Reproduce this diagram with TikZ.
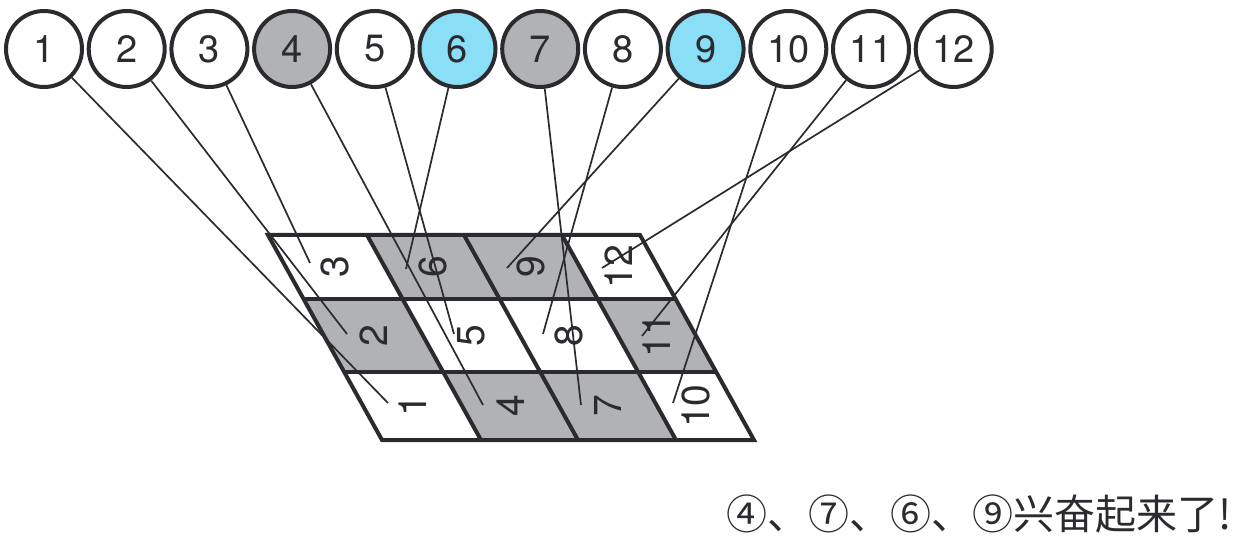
\documentclass[tikz,border=0pt]{standalone}
\usepackage{fontspec}
\setmainfont{TeX Gyre Heros}
\newfontfamily\cjk{Noto Sans CJK SC}
\definecolor{ink}{HTML}{2B2B2F}
\definecolor{cellgray}{HTML}{B1B2B4}
\definecolor{hot}{HTML}{8ADFF7}
\begin{document}
\begin{tikzpicture}[x=1pt,y=-1pt,
  ball/.style={circle,draw=ink,line width=4pt,minimum size=76pt,inner sep=0pt,
    font=\fontsize{38}{38}\selectfont,text=ink},
  wire/.style={draw=ink,line width=1.7pt},
  gridline/.style={draw=ink,line width=4pt,line join=miter},
  celltext/.style={rotate=90,inner sep=0pt,font=\fontsize{39}{39}\selectfont,text=ink}]
\useasboundingbox (0,0) rectangle (1242,537);
\def\sk{0.556}

% cells of the slanted grid: left x, right x (top edge), top y, bottom y, number, fill
\foreach \xa/\xb/\ya/\yb/\n/\f in {
  268/367/235/299/3/white, 367/464/235/299/6/cellgray, 464/562/235/299/9/cellgray, 562/640/235/299/12/white,
  268/367/299/372/2/cellgray, 367/464/299/372/5/white, 464/562/299/372/8/white, 562/640/299/372/11/cellgray,
  268/367/372/440/1/white, 367/464/372/440/4/cellgray, 464/562/372/440/7/cellgray, 562/640/372/440/10/white}{
  \fill[\f] ({\xa+\sk*(\ya-235)},\ya) -- ({\xb+\sk*(\ya-235)},\ya)
     -- ({\xb+\sk*(\yb-235)},\yb) -- ({\xa+\sk*(\yb-235)},\yb) -- cycle;
  \node[celltext] (k\n) at ({(\xa+\xb)/2+\sk*((\ya+\yb)/2-235)},{(\ya+\yb)/2}) {\n};
}

% grid outline and dividers
\draw[gridline] (268,235) -- (640,235) -- ({640+\sk*205},440) -- (382,440) -- cycle;
\draw[gridline] ({268+\sk*64},299) -- ({640+\sk*64},299);
\draw[gridline] ({268+\sk*137},372) -- ({640+\sk*137},372);
\foreach \xc in {367,464,562}
  \draw[gridline] (\xc,235) -- ({\xc+\sk*205},440);

% free ends of the connectors, inside the cells
\coordinate (e1) at (388,403);
\coordinate (e2) at (347,334);
\coordinate (e3) at (310,263);
\coordinate (e4) at (483,405);
\coordinate (e5) at (454,334);
\coordinate (e6) at (406,269);
\coordinate (e7) at (581,405);
\coordinate (e8) at (543,334);
\coordinate (e9) at (507,268);
\coordinate (e10) at (673,403);
\coordinate (e11) at (642,336);
\coordinate (e12) at (602,268);

% row of numbered balls
\foreach \i/\f in {1/white,2/white,3/white,4/cellgray,5/white,6/hot,7/cellgray,8/white,9/hot,10/white,11/white,12/white}
  \node[ball,fill=\f] (c\i) at ({44+82.7*(\i-1)},49) {\i};

% connectors
\foreach \i in {1,...,12}
  \draw[wire] (c\i) -- (e\i);

\node[anchor=west,inner sep=0pt,text=ink,font=\cjk\fontsize{41}{41}\selectfont] (msg) at (726,514) {④、⑦、⑥、⑨兴奋起来了!};
\end{tikzpicture}
\end{document}
